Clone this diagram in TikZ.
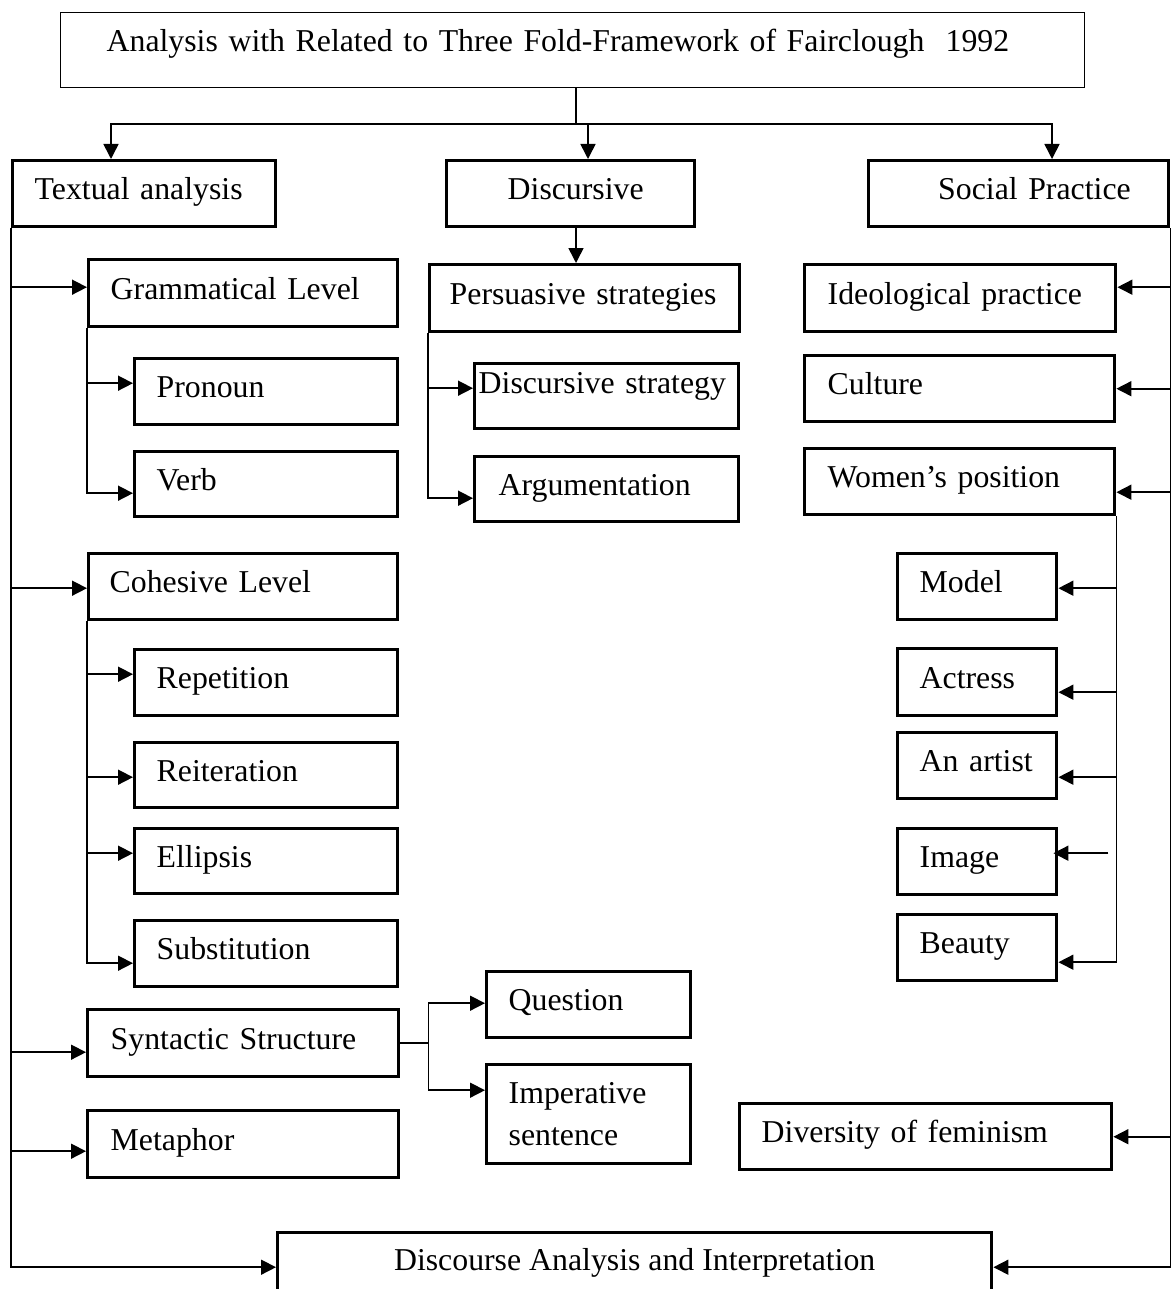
\documentclass[tikz,border=0pt]{standalone}
\usepackage{fontspec}
\setmainfont{Liberation Serif}
\usepackage{tikz}
\usetikzlibrary{arrows.meta}

\newcommand{\boxfont}{\fontsize{31.8pt}{38pt}\selectfont}

\begin{document}
\begin{tikzpicture}[
        x=1pt, y=-1pt,
        box/.style={draw, line width=3.4pt, anchor=north west, inner ysep=0pt,
                    text height=21pt, text depth=9pt, font=\boxfont, align=left},
        headbox/.style={box, line width=1.3pt, text height=20pt, text depth=18pt},
        conn/.style={line width=1.6pt},
        arr/.style={line width=1.6pt, -{Triangle[length=15pt,width=15pt]}}
    ]
    \useasboundingbox (0,0) rectangle (1173,1289);
    \clip (0,0) rectangle (1173,1289);
    \fill[white] (0,0) rectangle (1173,1289);

    % Title
    \node[headbox, text width=932pt, inner xsep=46pt, minimum height=75pt] (title) at (60,12)
        {Analysis with Related to Three Fold-Framework of Fairclough\ \ 1992};

    % Three main parts
    \node[box, text width=219pt, inner xsep=22pt, minimum height=66pt] (textual) at (11,159) {Textual analysis};
    \node[box, align=right, text width=146pt, inner xsep=51pt, minimum height=66pt] (discv) at (445,159) {Discursive};
    \node[box, align=right, text width=224pt, inner xsep=38pt, minimum height=66pt] (social) at (867,159) {Social Practice};

    % Textual analysis
    \node[box, text width=265pt, inner xsep=22pt, minimum height=67pt] (gram) at (87,258) {Grammatical Level};
    \node[box, text width=219pt, inner xsep=22pt, minimum height=66pt] (pron) at (133,357) {Pronoun};
    \node[box, text width=219pt, inner xsep=22pt, minimum height=65pt] (verb) at (133,450) {Verb};
    \node[box, text width=267pt, inner xsep=21pt, minimum height=66pt] (cohes) at (87,552) {Cohesive Level};
    \node[box, text width=219pt, inner xsep=22pt, minimum height=66pt] (rep) at (133,648) {Repetition};
    \node[box, text width=219pt, inner xsep=22pt, minimum height=65pt] (reit) at (133,741) {Reiteration};
    \node[box, text width=219pt, inner xsep=22pt, minimum height=65pt] (ell) at (133,827) {Ellipsis};
    \node[box, text width=219pt, inner xsep=22pt, minimum height=66pt] (subst) at (133,919) {Substitution};
    \node[box, text width=265pt, inner xsep=23pt, minimum height=67pt] (synt) at (86,1008) {Syntactic Structure};
    \node[box, text width=265pt, inner xsep=23pt, minimum height=67pt] (meta) at (86,1109) {Metaphor};
    \node[box, text width=160pt, inner xsep=22pt, minimum height=66pt] (quest) at (485,970) {Question};
    \node[box, text width=160pt, inner xsep=22pt, minimum height=99pt, text depth=43pt] (imper) at (485,1063)
        {Imperative\\[4pt]sentence};

    % Discursive
    \node[box, text width=270pt, inner xsep=20pt, minimum height=67pt] (persu) at (428,263) {Persuasive strategies};
    \node[box, text width=256pt, inner xsep=4pt, minimum height=65pt, text height=15pt, text depth=21pt] (dstrat) at (473,362)
        {Discursive strategy};
    \node[box, text width=216pt, inner xsep=24pt, minimum height=65pt] (argu) at (473,455) {Argumentation};

    % Social practice
    \node[box, text width=265pt, inner xsep=23pt, minimum height=67pt] (ideo) at (803,263) {Ideological practice};
    \node[box, text width=264pt, inner xsep=23pt, minimum height=66pt] (cult) at (803,354) {Culture};
    \node[box, text width=264pt, inner xsep=23pt, minimum height=66pt] (women) at (803,447) {Women’s position};
    \node[box, text width=115pt, inner xsep=22pt, minimum height=66pt] (model) at (896,552) {Model};
    \node[box, text width=115pt, inner xsep=22pt, minimum height=67pt] (actress) at (896,647) {Actress};
    \node[box, text width=115pt, inner xsep=22pt, minimum height=66pt] (artist) at (896,731) {An artist};
    \node[box, text width=115pt, inner xsep=22pt, minimum height=66pt] (image) at (896,827) {Image};
    \node[box, text width=115pt, inner xsep=22pt, minimum height=66pt] (beauty) at (896,913) {Beauty};
    \node[box, text width=328pt, inner xsep=22pt, minimum height=66pt] (diver) at (738,1102) {Diversity of feminism};

    % Result
    \node[box, align=center, minimum width=714pt, minimum height=63pt] (disc) at (276,1231)
        {Discourse Analysis and Interpretation};

    % Split below the title
    \coordinate (hub) at (576,124);
    \coordinate (ttop) at ([xshift=100pt]textual.north west);
    \coordinate (dtop) at ([xshift=143pt]discv.north west);
    \coordinate (sptop) at ([xshift=185pt]social.north west);
    \draw[conn] (title.south -| hub) -- (hub);
    \draw[arr] (hub) -| (ttop);
    \draw[arr] (hub) -| (sptop);
    \draw[arr] (dtop |- hub) -- (dtop);
    \draw[arr] (hub |- discv.south) -- (hub |- persu.north);

    % Left spine
    \foreach \n/\dy in {gram/6pt, cohes/-1.5pt, synt/-9pt, meta/-7pt, disc/-3pt} {
        \draw[arr] (textual.south west) |- ([yshift=\dy]\n.west);
    }

    % Sub-branches on the left
    \foreach \p/\c/\dy in {gram/pron/8.5pt, gram/verb/-9pt,
                           cohes/rep/8.5pt, cohes/reit/-2pt, cohes/ell/8pt, cohes/subst/-9.5pt,
                           persu/dstrat/8pt, persu/argu/-9pt} {
        \draw[arr] (\p.south west) |- ([yshift=\dy]\c.west);
    }

    % Syntactic structure
    \coordinate (sj) at ([xshift=28pt]synt.east);
    \draw[conn] (synt.east) -- (sj);
    \draw[arr] (sj) |- ([yshift=1.5pt]quest.west);
    \draw[arr] (sj) |- ([yshift=24pt]imper.west);

    % Right spine
    \foreach \n/\dy in {ideo/11pt, cult/0pt, women/-10.5pt, diver/0pt, disc/-3pt} {
        \draw[arr] (social.south east) |- ([yshift=\dy]\n.east);
    }

    % Women's position
    \foreach \c/\dy in {model/-1.5pt, actress/-10pt, artist/-11.5pt, beauty/-14.5pt} {
        \draw[arr] (women.south east) |- ([yshift=\dy]\c.east);
    }
    \coordinate (imgtail) at ([xshift=50pt,yshift=8.5pt]image.east);
    \draw[arr] (imgtail) -- ([xshift=-5pt,yshift=8.5pt]image.east);

\end{tikzpicture}
\end{document}
